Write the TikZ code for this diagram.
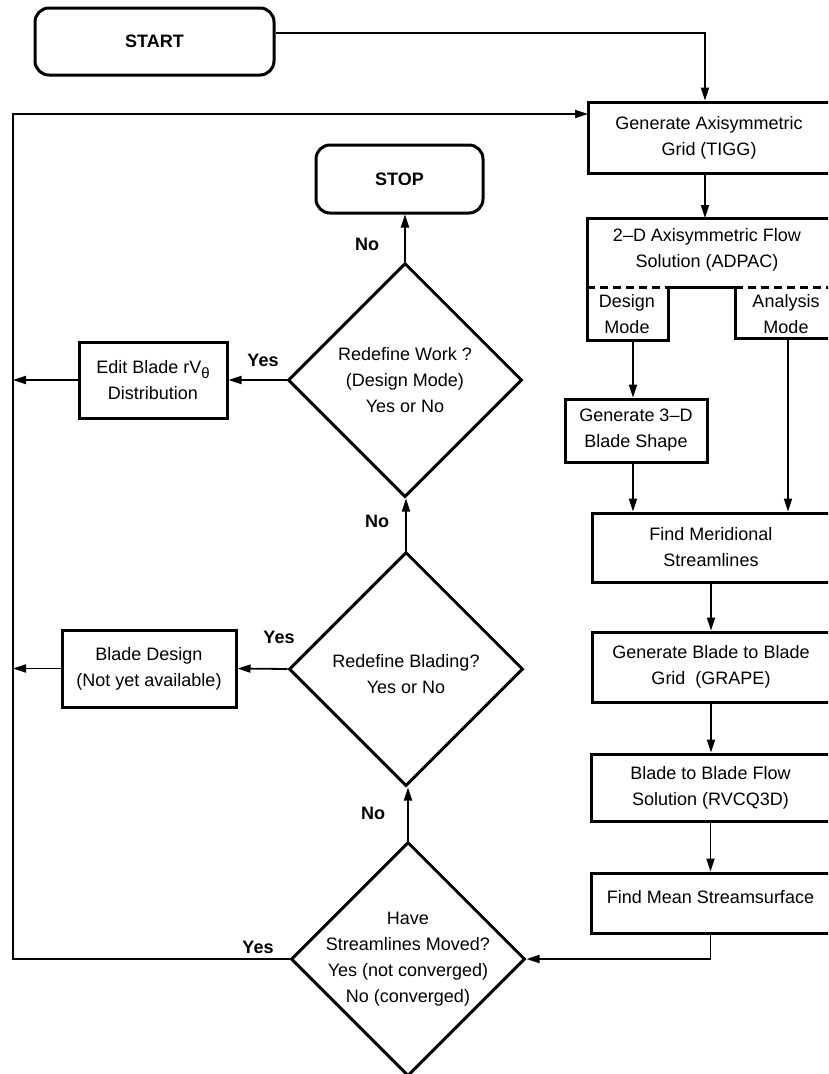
\documentclass[tikz,border=0pt]{standalone}
\usepackage{fontspec}
\setmainfont{Liberation Sans}
\usetikzlibrary{shapes.geometric,arrows.meta}
\begin{document}
\begin{tikzpicture}[x=1pt,y=-1pt,font=\fontsize{18}{26}\selectfont,
  box/.style={draw,line width=3pt,align=center,inner sep=0pt},
  term/.style={box,rounded corners=14pt},
  decide/.style={draw,diamond,line width=3pt,minimum width=234pt,minimum height=234pt,inner sep=0pt},
  ans/.style={font=\fontsize{18}{26}\selectfont\bfseries},
  arr/.style={line width=1.8pt,-{Triangle[length=13pt,width=8pt]}}]
\useasboundingbox (0,0) rectangle (828,1074);
\clip (0,0) rectangle (828,1074);
\node[term,minimum width=239pt,minimum height=67pt] (start) at (154.5,41.5) {\bfseries START};
\node[term,minimum width=167pt,minimum height=68pt] (stop) at (399.5,179) {\bfseries STOP};
\node[box,minimum width=242pt,minimum height=71pt] (tigg) at (709,137.5) {Generate Axisymmetric\\Grid (TIGG)};
\node[align=center] (adpac) at (707,249.5) {2--D Axisymmetric Flow\\Solution (ADPAC)};
\node[align=center] (dsgn) at (627,314.5) {Design\\Mode};
\node[align=center] (anlys) at (786,314.5) {Analysis\\Mode};
\draw[line width=3pt] (830,218) -- (587,218) -- (587,340) -- (668,340) -- (668,287) -- (735,287) -- (735,338) -- (830,338);
\draw[line width=3pt,dash pattern=on 8pt off 5pt] (587,287) -- (668,287) (735,287) -- (830,287);
\coordinate (adpactop) at (705,218);
\coordinate (dsgnout) at (633,340);
\coordinate (anlysout) at (788,338);
\node[box,minimum width=142pt,minimum height=63pt] (blade3d) at (636,430.5) {Generate 3--D\\Blade Shape};
\node[box,minimum width=238pt,minimum height=69pt] (merid) at (711,547.5) {Find Meridional\\Streamlines};
\node[box,minimum width=238pt,minimum height=70pt] (grape) at (711,667) {Generate Blade to Blade\\Grid\ \ (GRAPE)};
\node[box,minimum width=239pt,minimum height=67pt] (rvcq) at (710.5,787.5) {Blade to Blade Flow\\Solution (RVCQ3D)};
\node[box,minimum width=239pt,minimum height=60pt,text depth=13pt] (mean) at (710.5,903) {Find Mean Streamsurface};
\node[box,minimum width=148pt,minimum height=76pt] (edit) at (153,380) {Edit Blade rV\raisebox{-5pt}{\fontsize{15}{15}\selectfont θ}\\Distribution};
\node[box,minimum width=174pt,minimum height=77pt] (bldsgn) at (149,668.5) {Blade Design\\(Not yet available)};
\node[decide,label={[align=center]center:{Redefine Work ?\\(Design Mode)\\Yes or No}}] (work) at (405,380) {};
\node[decide,label={[align=center,yshift=-5pt]center:{Redefine Blading?\\Yes or No}}] (blading) at (406,669) {};
\node[decide,label={[align=center]center:{Have\\Streamlines Moved?\\Yes (not converged)\\No (converged)}}] (moved) at (408,959) {};
\node[ans] (yes1) at (263,360) {Yes};
\node[ans] (yes2) at (279,637) {Yes};
\node[ans] (yes3) at (258,947) {Yes};
\node[ans] (no1) at (367,244) {No};
\node[ans] (no2) at (377,521) {No};
\node[ans] (no3) at (373,813) {No};
\coordinate (lft) at (13,0);
\coordinate (fbin) at (588,114);
\draw[arr] ([yshift=8.5pt]start.east) -| (adpactop |- tigg.north);
\draw[arr] (tigg.south -| adpactop) -- (adpactop);
\draw[arr] (dsgnout) -- (dsgnout |- blade3d.north);
\draw[arr] (blade3d.south -| dsgnout) -- (dsgnout |- merid.north);
\draw[arr] (anlysout) -- (anlysout |- merid.north);
\draw[arr] (merid) -- (grape);
\draw[arr] (grape.south) -- (grape.south |- rvcq.north);
\draw[arr] (rvcq.south) -- (rvcq.south |- mean.north);
\draw[arr] (mean.south) |- (moved.east);
\draw[arr] (moved.north) -- (moved.north |- blading.south);
\draw[arr] (blading.north) -- (blading.north |- work.south);
\draw[arr] (work.north) -- (work.north |- stop.south);
\draw[arr] (work.west) -- (edit.east);
\draw[arr] (edit.west) -- (edit.west -| lft);
\draw[arr] (blading.west) -- (bldsgn.east);
\draw[arr] (bldsgn.west) -- (bldsgn.west -| lft);
\draw[arr] (moved.west) -| (lft |- fbin) -- (fbin);
\end{tikzpicture}
\end{document}
